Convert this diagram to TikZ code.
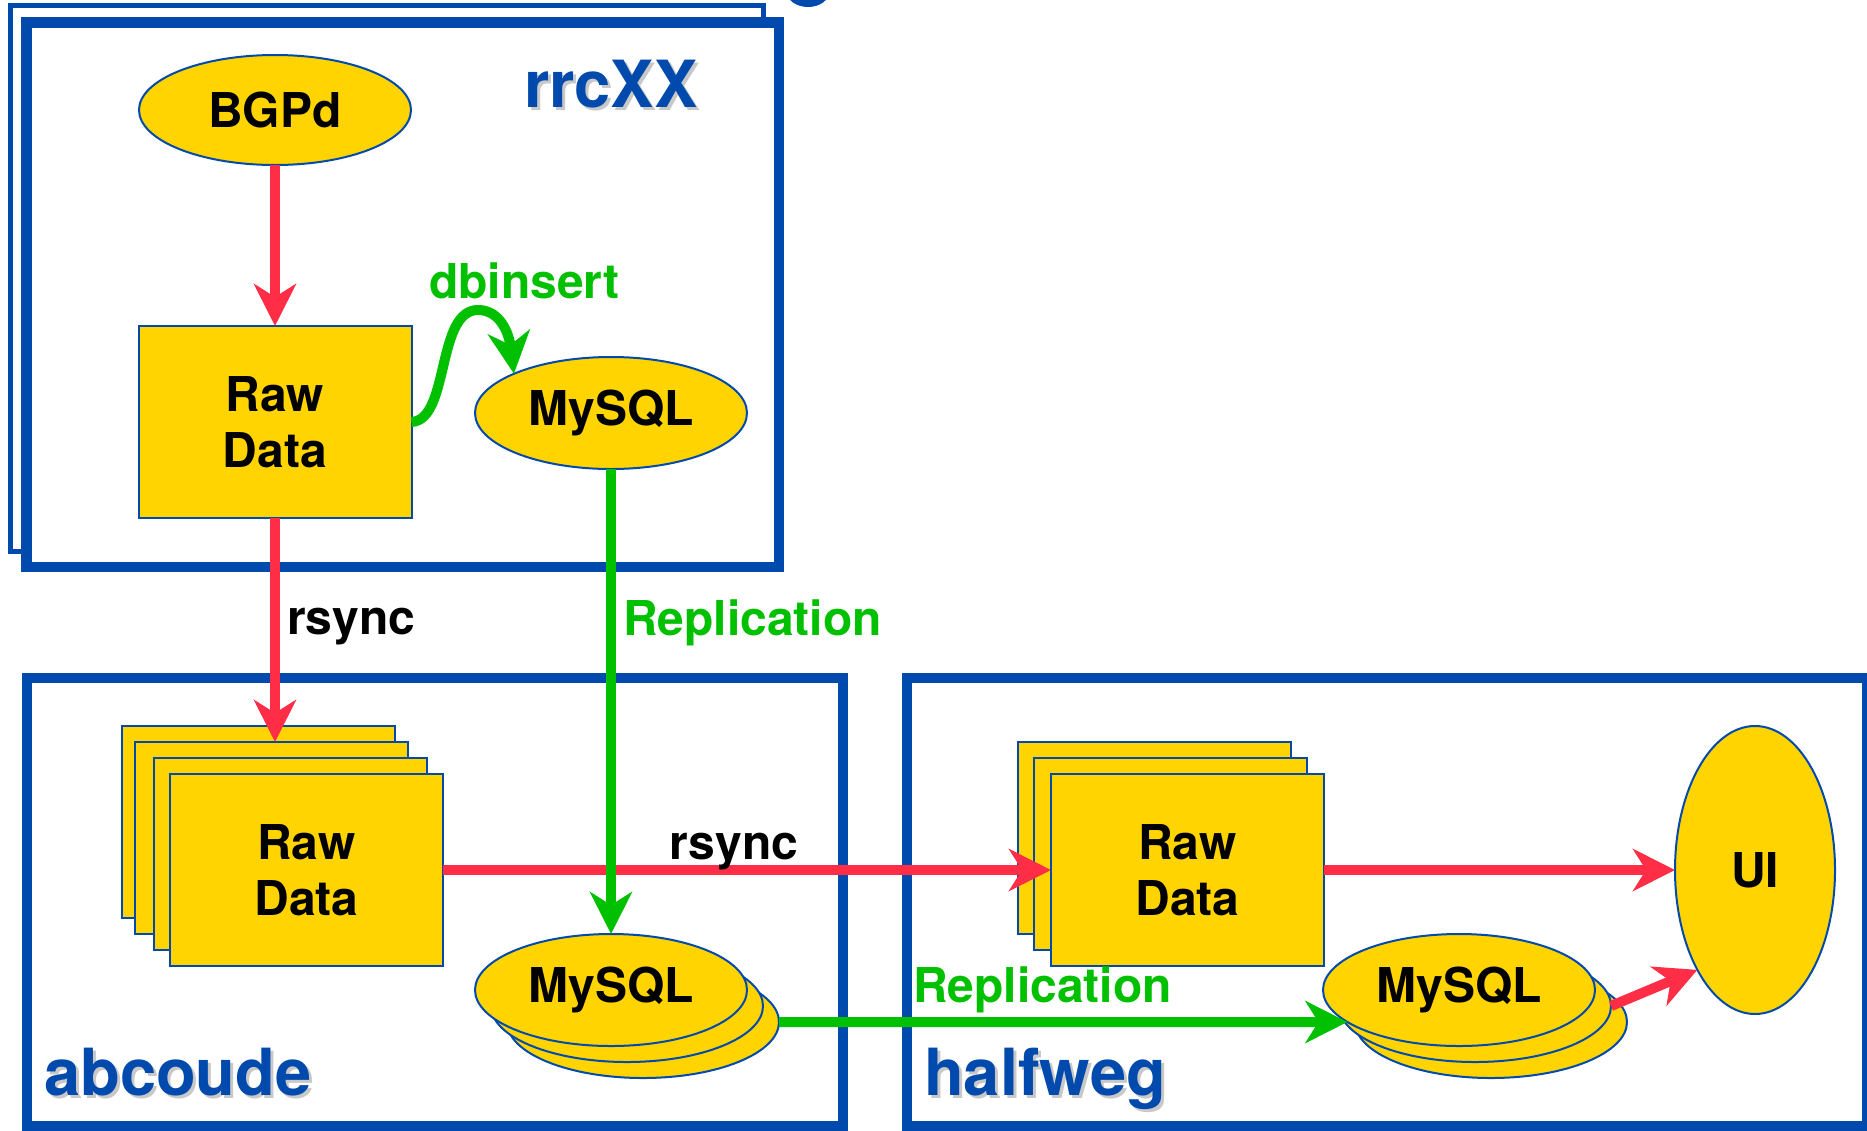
\documentclass[tikz,border=0pt]{standalone}
\usepackage{fontspec}
\setmainfont{TeX Gyre Heros}
\usepackage{tikz}
\usetikzlibrary{shapes}
\usetikzlibrary{arrows.meta}

\definecolor{frameblue}{RGB}{0,74,173}
\definecolor{dbyellow}{RGB}{255,212,0}
\definecolor{syncred}{RGB}{255,45,70}
\definecolor{repgreen}{RGB}{0,192,0}
\definecolor{shadowgray}{RGB}{200,200,200}

\newcommand{\boxfont}{\fontsize{48}{56}\selectfont\bfseries}
\newcommand{\sitefont}{\fontsize{65}{70}\selectfont\bfseries}
% site name with a grey drop shadow
\newcommand{\sitelabel}[4]{%
  \node[sitename, text=shadowgray] (#1-shadow) at (#2+3,#3+3) {#4};
  \node[sitename] (#1) at (#2,#3) {#4};}

\begin{document}
\begin{tikzpicture}[x=1pt, y=-1pt,
  sheet/.style={rectangle, draw=frameblue, line width=2pt, fill=dbyellow, minimum width=273pt, minimum height=192pt, inner sep=0pt, outer sep=0pt, align=center, font=\boxfont},
  disk/.style={ellipse, draw=frameblue, line width=2pt, fill=dbyellow, minimum width=272pt, minimum height=112pt, inner sep=0pt, outer sep=0pt, font=\boxfont},
  site/.style={draw=frameblue, line width=10.5pt},
  sitename/.style={text=frameblue, font=\sitefont, anchor=base west, inner sep=0pt},
  syncarrow/.style={draw=syncred, line width=10pt, -{Stealth[length=42pt, width=42pt, inset=13pt]}},
  reparrow/.style={draw=repgreen, line width=10pt, -{Stealth[length=42pt, width=42pt, inset=13pt]}},
  edgetext/.style={font=\boxfont, anchor=base west, inner sep=0pt}]
				\useasboundingbox (0,0) rectangle (1867,1130);
				
				% sites
				\fill[frameblue] (808,-8) ellipse [x radius=21, y radius=15];
				\draw[frameblue, line width=5pt] (10.5,5.5) rectangle (763,551);
				\draw[site, fill=white] (26.5,22.5) rectangle (779,567);
				\draw[site] (27,678) rectangle (843,1126);
				\draw[site] (907,678) rectangle (1867,1126);
				\sitelabel{rrc}{524}{107}{rrcXX}
				\sitelabel{abcoude}{44}{1095}{abcoude}
				\sitelabel{halfweg}{924}{1095}{halfweg}
				
				% rrcXX
				\node[disk, minimum height=110pt] (bgpd) at (275,110) {BGPd};
				\node[sheet] (rawA) at (275,422) {Raw\\Data};
				\node[disk] (mysqlA) at (611,413) {MySQL};
				
				% abcoude
				\node[sheet] (rawB1) at (258.5,822) {};
				\node[sheet] (rawB2) at (271.5,838) {};
				\node[sheet] (rawB3) at (290.5,854) {};
				\node[sheet] (rawB) at (306.5,870) {Raw\\Data};
				\node[disk] (mysqlB3) at (643,1022) {};
				\node[disk] (mysqlB2) at (627,1006) {};
				\node[disk] (mysqlB) at (611,990) {MySQL};
				
				% halfweg
				\node[sheet] (rawC1) at (1154.5,838) {};
				\node[sheet] (rawC2) at (1170.5,854) {};
				\node[sheet] (rawC) at (1187.5,870) {Raw\\Data};
				\node[disk] (mysqlC3) at (1491,1022) {};
				\node[disk] (mysqlC2) at (1475,1006) {};
				\node[disk] (mysqlC) at (1459,990) {MySQL};
				\node[disk, minimum width=160pt, minimum height=288pt] (ui) at (1755,870) {UI};
				
				% connectors
				\draw[syncarrow] (bgpd) -- (rawA);
				\draw[syncarrow] (rawA) -- (rawA.south |- rawB2.north) node[edgetext, pos=0.522, xshift=7pt] (rsyncA) {rsync};
				\draw[syncarrow] (rawB) -- (rawC) node[edgetext, pos=0.365, yshift=11pt] (rsyncB) {rsync};
				\draw[syncarrow] (rawC) -- (ui);
				\draw[syncarrow] (mysqlC2.east) -- (ui.240.6);
				\draw[reparrow] (mysqlA) -- (mysqlB) node[edgetext, text=repgreen, pos=0.357, xshift=7pt] (replA) {Replication};
				\draw[reparrow] (mysqlB3.east) -- (mysqlC.196) node[edgetext, text=repgreen, pos=0.227, yshift=20pt] (replB) {Replication};
				\draw[reparrow] (rawA.east) .. controls (450,420) and (436,310) .. (478,310) .. controls (500,310) and (509,333) .. (mysqlA.158);
				\node[edgetext, text=repgreen] (dbins) at (429,298) {dbinsert};
			\end{tikzpicture}
\end{document}
